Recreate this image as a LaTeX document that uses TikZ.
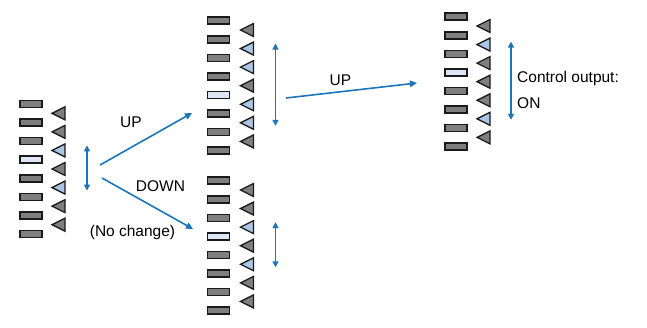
\documentclass[tikz,border=0pt]{standalone}
\usepackage{fontspec}
\setmainfont{Liberation Sans}
\usetikzlibrary{arrows.meta,shapes.geometric}
\definecolor{bardark}{HTML}{7F7F7F}
\definecolor{barlight}{HTML}{DDE7F4}
\definecolor{trilight}{HTML}{ABC5E6}
\definecolor{edge}{HTML}{1A1A1A}
\definecolor{flowblue}{HTML}{1B75BC}
\tikzset{
  bar/.style={
    rectangle, draw=edge, fill=bardark, line width=1.5pt,
    minimum width=22pt, minimum height=7pt, inner sep=0pt
  },
  lbar/.style={bar, fill=barlight},
  tri/.style={
    isosceles triangle, shape border rotate=180,
    isosceles triangle stretches, draw=edge, fill=bardark,
    line width=1.3pt, minimum width=13pt, minimum height=13pt, inner sep=0pt
  },
  ltri/.style={tri, fill=trilight},
  span/.style={{Triangle[length=6pt,width=6pt]}-{Triangle[length=6pt,width=6pt]},
    flowblue, line width=1.6pt},
  flow/.style={-{Triangle[length=7pt,width=6.5pt]}, flowblue, line width=1.6pt},
  lbl/.style={font=\fontsize{15.5}{18}\selectfont, inner sep=0pt}
}

\begin{document}
\begin{tikzpicture}[x=1pt, y=-1pt]
\useasboundingbox (0,0) rectangle (647,327);

% ── Group 1: start state ──────────────────────────────────────────
\foreach \st [count=\i from 0] in {bar,bar,bar,lbar,bar,bar,bar,bar}
  \node[\st] (g1b\i) at (31, {104+18.57*\i}) {};
\foreach \st [count=\i from 0] in {tri,tri,ltri,tri,ltri,tri,tri}
  \node[\st] (g1t\i) at (61, {104+18.57*(\i+0.5)}) {};
\draw[span] ([xshift=26pt,yshift=5pt]g1t2.center) -- ([xshift=26pt,yshift=-3pt]g1t4.center);

% ── Group 2: after UP ─────────────────────────────────────────────
\foreach \st [count=\i from 0] in {bar,bar,bar,bar,lbar,bar,bar,bar}
  \node[\st] (g2b\i) at (218.5, {20.7+18.57*\i}) {};
\foreach \st [count=\i from 0] in {tri,ltri,ltri,tri,ltri,ltri,tri}
  \node[\st] (g2t\i) at (249.5, {20.7+18.57*(\i+0.5)}) {};
\draw[span] ([xshift=26pt,yshift=5pt]g2t1.center) -- ([xshift=26pt,yshift=-3pt]g2t5.center);

% ── Group 3: after DOWN ───────────────────────────────────────────
\foreach \st [count=\i from 0] in {bar,bar,bar,lbar,bar,bar,bar,bar}
  \node[\st] (g3b\i) at (218.5, {180.7+18.57*\i}) {};
\foreach \st [count=\i from 0] in {tri,tri,ltri,tri,ltri,tri,tri}
  \node[\st] (g3t\i) at (249.5, {180.7+18.57*(\i+0.5)}) {};
\draw[span] ([xshift=26pt,yshift=5pt]g3t2.center) -- ([xshift=26pt,yshift=-3pt]g3t4.center);

% ── Group 4: output ON ────────────────────────────────────────────
\foreach \st [count=\i from 0] in {bar,bar,bar,lbar,bar,bar,bar,bar}
  \node[\st] (g4b\i) at (456, {16.7+18.57*\i}) {};
\foreach \st [count=\i from 0] in {tri,ltri,tri,tri,tri,ltri,tri}
  \node[\st] (g4t\i) at (486, {16.7+18.57*(\i+0.5)}) {};
\draw[span] ([xshift=25pt,yshift=3pt]g4t1.center) -- ([xshift=25pt,yshift=-1pt]g4t5.center);

% ── Transitions ───────────────────────────────────────────────────
\coordinate (up1a) at (100,165);
\coordinate (up1b) at (192,113);
\coordinate (dn1a) at (102,178);
\coordinate (dn1b) at (193,229);
\coordinate (up2a) at (286,98);
\coordinate (up2b) at (417,83);
\draw[flow] (up1a) -- (up1b);
\draw[flow] (dn1a) -- (dn1b);
\draw[flow] (up2a) -- (up2b);

\node[lbl] (uplbl) at (131,122) {UP};
\node[lbl] (dnlbl) at (160.5,186.5) {DOWN};
\node[lbl] (nclbl) at (132.5,232) {(No change)};
\node[lbl] (up2lbl) at (340.5,80) {UP};
\node[lbl, anchor=west] (outlbl) at (517,78) {Control output:};
\node[lbl, anchor=west] (onlbl) at (517,103) {ON};

\end{tikzpicture}
\end{document}
